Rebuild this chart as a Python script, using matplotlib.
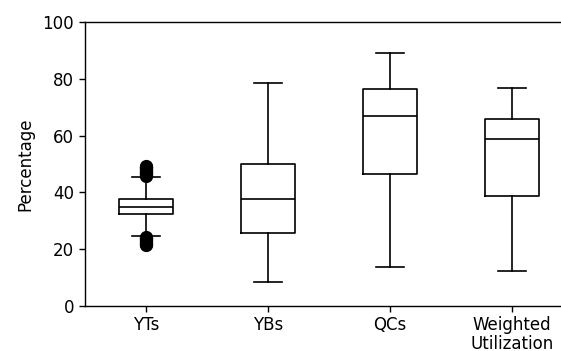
import matplotlib
matplotlib.use("Agg")
import matplotlib.pyplot as plt

# box statistics
labels = ["YTs", "YBs", "QCs", "Weighted\nUtilization"]
medians = [35.0, 37.7, 67.0, 58.7]
q1 = [32.5, 25.6, 46.6, 38.8]
q3 = [37.7, 49.9, 76.4, 65.8]
whis_lo = [24.8, 8.3, 13.6, 12.4]
whis_hi = [45.3, 78.4, 89.0, 76.6]

# YTs has a dense cloud of outliers on both sides
yts_fliers_hi = [45.8, 46.1, 46.4, 46.7, 47.0, 47.3, 47.6, 47.9, 48.2, 48.5, 48.8, 49.1, 49.3]
yts_fliers_lo = [21.4, 21.7, 22.0, 22.3, 22.6, 22.9, 23.2, 23.5, 23.8, 24.1, 24.4]
fliers = [yts_fliers_hi + yts_fliers_lo, [], [], []]

stats = []
for i in range(len(labels)):
    stats.append({
        "med": medians[i], "q1": q1[i], "q3": q3[i],
        "whislo": whis_lo[i], "whishi": whis_hi[i],
        "fliers": fliers[i], "label": labels[i],
    })

plt.rcParams["font.size"] = 12
plt.rcParams["axes.linewidth"] = 1.0
plt.rcParams["xtick.major.size"] = 4.0
plt.rcParams["ytick.major.size"] = 4.5
plt.rcParams["xtick.major.width"] = 1.0
plt.rcParams["ytick.major.width"] = 1.0

fig = plt.figure(figsize=(5.61, 3.51), dpi=100)
ax = fig.add_axes([85 / 561, 45 / 351, 488 / 561, 284 / 351])

lw = 1.2
ax.bxp(stats, widths=0.45, patch_artist=False,
       boxprops=dict(color="black", linewidth=lw),
       medianprops=dict(color="black", linewidth=lw),
       whiskerprops=dict(color="black", linewidth=lw),
       capprops=dict(color="black", linewidth=lw),
       flierprops=dict(marker="o", markerfacecolor="black",
                       markeredgecolor="black", markersize=8.5))

ax.set_ylim(0, 100)
ax.set_xlim(0.5, 4.5)
ax.set_yticks([0, 20, 40, 60, 80, 100])
ax.set_ylabel("Percentage", labelpad=6)
ax.spines["right"].set_visible(False)
for t in ax.get_xticklabels():
    t.set_linespacing(1.05)

fig.savefig("out.png", dpi=100)
